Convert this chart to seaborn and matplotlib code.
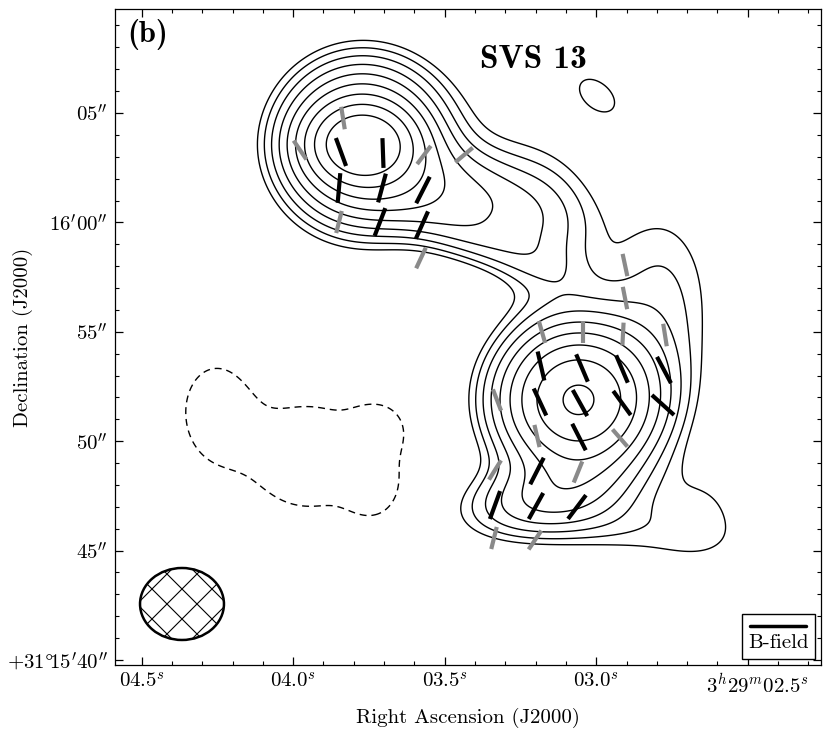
import numpy as np
import pandas as pd
import matplotlib
matplotlib.use("Agg")
import matplotlib.pyplot as plt
import seaborn as sns
from matplotlib.patches import Ellipse
from matplotlib.ticker import MultipleLocator
from matplotlib.lines import Line2D
from matplotlib.transforms import ScaledTranslation
from matplotlib.offsetbox import AnchoredOffsetbox, VPacker, DrawingArea, TextArea

# ---------------- data ----------------
# axis ticks: RA seconds (3h29m + s) and Dec offset in arcsec from +31d15'40"
X_TICKS = [4.5, 4.0, 3.5, 3.0, 2.5]
X_TICK_LABELS = [r"$04.5^s$", r"$04.0^s$", r"$03.5^s$", r"$03.0^s$", r"$3^h29^m02.5^s$"]
Y_TICKS = [0, 5, 10, 15, 20, 25]
Y_TICK_LABELS = [r"$+31\degree\!15^{\prime}40^{\prime\prime}$", r"$45^{\prime\prime}$",
                 r"$50^{\prime\prime}$", r"$55^{\prime\prime}$",
                 r"$16^{\prime}00^{\prime\prime}$", r"$05^{\prime\prime}$"]

# dust emission model: gaussian components
# (RA s, Dec offset ", amplitude, sigma_major ", sigma_minor ", angle deg)
COMP_RA = [3.7730, 3.7730, 3.4495, 3.3840, 3.2845, 3.1591, 3.0601, 3.1525, 2.7829, 2.6400,
           2.8700, 2.9974, 4.2581, 3.9500, 3.7136, 3.7300]
COMP_DEC = [23.583, 23.583, 21.30, 19.20, 24.451, 19.195, 11.882, 7.449, 16.453, 7.000,
            5.900, 25.822, 11.425, 9.300, 10.510, 7.990]
COMP_AMP = [13.0, 12.5, 4.0, 1.3, 0.40, 1.2, 16.8, 3.5, 1.5, 0.85,
            1.05, 1.3, -1.6, -1.7, -1.4, -1.4]
COMP_SMAJ = [1.371, 2.102, 2.97, 3.20, 3.00, 1.60, 2.102, 2.514, 1.92, 1.40,
             3.50, 1.20, 1.28, 2.40, 0.90, 0.90]
COMP_SMIN = [1.005, 2.102, 1.46, 0.82, 1.20, 2.51, 2.011, 1.143, 3.43, 1.50,
             1.10, 0.75, 1.83, 2.20, 0.90, 1.10]
COMP_ANG = [0, 0, -15, -22, -35, 0, 0, 10, 0, 0,
            -8, -40, 0, 0, 0, 0]

CONTOUR_LEVELS = [2 ** (k / 2) for k in range(9)]
NEG_LEVELS = [-1.0]

# polarization (B-field) segments: RA s, Dec ", position angle deg, detection class
SEG_RA = [3.8357, 3.9776, 3.5684, 3.4363, 3.8489, 3.5783, 2.9050, 2.9050, 2.9116, 3.1789,
          3.0436, 2.7730, 3.3274, 3.1954, 2.9215, 3.3340, 3.0601, 3.3373, 3.2020,
          3.8423, 3.7037, 3.8489, 3.7070, 3.5717, 3.7136, 3.5750, 3.1822, 3.0469, 2.9149,
          2.7763, 3.1855, 3.0535, 2.9149, 2.7796, 3.0568, 3.1954, 3.3340, 3.1987, 3.0634]
SEG_DEC = [24.771, 23.308, 23.080, 23.080, 20.018, 18.372, 18.052, 16.544, 14.899, 14.990,
           14.990, 14.853, 11.882, 10.237, 10.146, 8.683, 8.592, 5.575, 5.484,
           23.217, 23.171, 21.572, 21.572, 21.480, 20.018, 19.881, 13.436, 13.345, 13.299,
           13.254, 11.791, 11.745, 11.745, 11.654, 10.191, 8.637, 7.083, 7.038, 6.992]
SEG_PA = [9, 34, -37, -50, -14, -25, 12, 11, -3, 16,
          0, 9, 21, 13, 41, -32, -22, -14, -34,
          20, 2, -5, -15, -27, -21, -24, 13, 23, 23,
          28, 25, 29, 36, 48, 27, -27, -20, -29, -37]
SEG_KIND = ["low"] * 19 + ["high"] * 20

BEAM_RA, BEAM_DEC = 4.367, 2.56
BEAM_MAJ_S, BEAM_MIN_AS = 0.277, 3.29

# ---------------- style ----------------
sns.set_style("ticks")
plt.rcParams.update({
    "font.family": "serif",
    "font.serif": ["cmr10"],
    "mathtext.fontset": "cm",
    "axes.formatter.use_mathtext": True,
    "axes.linewidth": 0.9,
    "axes.edgecolor": "black",
    "axes.labelcolor": "black",
    "text.color": "black",
    "xtick.color": "black",
    "ytick.color": "black",
    "xtick.direction": "in",
    "ytick.direction": "in",
})

K = 303.0 / 21.88   # displayed arcsec per RA second

fig = plt.figure(figsize=(8.31, 7.42), dpi=100)
ax = fig.add_axes([115 / 831, 1 - 665 / 742, 706 / 831, 656 / 742])

# ---------------- emission map ----------------
ra = np.linspace(2.2, 4.65, 500)
dec = np.linspace(-1.0, 31.0, 500)
RA, DEC = np.meshgrid(ra, dec)
X = (4.5 - RA) * K
Y = DEC
Z = np.zeros_like(X)
for r0, d0, a, smaj, smin, ang in zip(COMP_RA, COMP_DEC, COMP_AMP, COMP_SMAJ, COMP_SMIN, COMP_ANG):
    dx = X - (4.5 - r0) * K
    dy = Y - d0
    t = np.deg2rad(ang)
    u = dx * np.cos(t) + dy * np.sin(t)
    v = -dx * np.sin(t) + dy * np.cos(t)
    Z += a * np.exp(-0.5 * ((u / smaj) ** 2 + (v / smin) ** 2))

ax.contour(RA, DEC, Z, levels=CONTOUR_LEVELS, colors="k", linewidths=1.0, zorder=2)
ax.contour(RA, DEC, Z, levels=NEG_LEVELS, colors="k", linewidths=1.0,
           linestyles=[(0, (5, 3.5))], zorder=2)

# ---------------- B-field segments ----------------
rows = []
for i, (r0, d0, pa, kind) in enumerate(zip(SEG_RA, SEG_DEC, SEG_PA, SEG_KIND)):
    h = 0.68 if kind == "high" else 0.52
    p = np.deg2rad(pa)
    rows.append(dict(seg=i, kind=kind, ra=r0 + h * np.sin(p) / K, dec=d0 + h * np.cos(p)))
    rows.append(dict(seg=i, kind=kind, ra=r0 - h * np.sin(p) / K, dec=d0 - h * np.cos(p)))
seg_df = pd.DataFrame(rows)
sns.lineplot(data=seg_df, x="ra", y="dec", units="seg", estimator=None, hue="kind",
             palette={"high": "black", "low": "#8a8a8a"}, sort=False, legend=False,
             linewidth=3.0, solid_capstyle="butt", zorder=3, ax=ax)

# ---------------- beam ----------------
beam = Ellipse((BEAM_RA, BEAM_DEC), BEAM_MAJ_S, BEAM_MIN_AS, fill=False,
               edgecolor="black", linewidth=1.8, zorder=4)
ax.add_patch(beam)
bx0 = (4.5 - BEAM_RA) * K
sp = 30 / 21.88
for k in range(-4, 4):
    c = sp / 2 + k * sp
    tt = np.linspace(-4, 4, 2)
    for sgn in (1, -1):
        xs = bx0 + c / 2 + tt
        ys = BEAM_DEC + sgn * (c / 2 - tt)
        ln, = ax.plot(4.5 - xs / K, ys, color="black", lw=0.8, zorder=4)
        ln.set_clip_path(beam)

# ---------------- axes ----------------
ax.set_xlim(4.5881, 2.2581)
ax.set_ylim(-0.2285, 29.753)
ax.set_xticks(X_TICKS)
ax.set_xticklabels(X_TICK_LABELS)
ax.set_yticks(Y_TICKS)
ax.set_yticklabels(Y_TICK_LABELS)
ax.xaxis.set_minor_locator(MultipleLocator(0.1))
ax.yaxis.set_minor_locator(MultipleLocator(1))
ax.tick_params(which="both", direction="in", top=True, right=True, labelsize=15,
               colors="black")
ax.tick_params(which="major", length=6, width=0.9, pad=5)
ax.tick_params(which="minor", length=3, width=0.8)
last = ax.get_xticklabels()[-1]
last.set_transform(last.get_transform() + ScaledTranslation(0.10, 0, fig.dpi_scale_trans))
ax.set_xlabel("Right Ascension (J2000)", fontsize=15)
ax.set_ylabel("Declination (J2000)", fontsize=15)
ax.xaxis.set_label_coords(0.5, -0.065)
ax.yaxis.set_label_coords(-0.116, 0.5)
for s in ax.spines.values():
    s.set_visible(True)
    s.set_linewidth(0.9)
    s.set_edgecolor("black")

ax.text(0.018, 0.984, "(b)", transform=ax.transAxes, ha="left", va="top",
        fontsize=22, family="cmb10")
ax.text(0.517, 0.910, "SVS 13", transform=ax.transAxes, ha="left", va="baseline",
        fontsize=24, family="cmb10")

# legend
da = DrawingArea(40, 7, 0, 0)
da.add_artist(Line2D([0, 40], [3.5, 3.5], color="black", lw=2.5))
ta = TextArea("B-field", textprops=dict(fontsize=15, family="cmr10", color="black"))
pack = VPacker(children=[da, ta], align="center", pad=0, sep=3)
ab = AnchoredOffsetbox(loc="lower right", child=pack, pad=0.3, borderpad=0.3,
                       frameon=True, prop=dict(size=15))
ab.patch.set_boxstyle("square", pad=0)
ab.patch.set_edgecolor("black")
ab.patch.set_linewidth(1.0)
ax.add_artist(ab)

fig.savefig("out.png", dpi=100)
